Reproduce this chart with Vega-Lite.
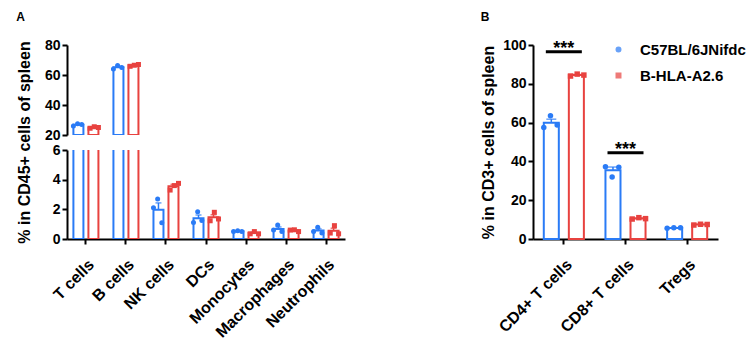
{
  "$schema": "https://vega.github.io/schema/vega-lite/v6.json",
  "padding": {"left": 16, "top": 11, "right": 5, "bottom": 5},
  "config": {
    "view": {"stroke": null},
    "font": "Liberation Sans",
    "axis": {"domainColor": "black", "domainWidth": 2, "tickColor": "black", "tickWidth": 2, "tickSize": 5, "labelFont": "Liberation Sans", "labelFontWeight": "bold", "labelFontSize": 14, "labelColor": "black", "labelOverlap": false, "titleFont": "Liberation Sans", "titleFontWeight": "bold", "titleFontSize": 16, "titleColor": "black", "grid": false},
    "title": {"font": "Liberation Sans", "fontSize": 12, "fontWeight": "bold", "color": "black", "anchor": "start", "frame": "bounds", "offset": 14},
    "legend": {"labelFont": "Liberation Sans", "labelFontSize": 15, "labelFontWeight": "bold", "labelColor": "black"}
  },
  "datasets": {
    "a": [
      {"cell": "T cells", "strain": "C57BL/6JNifdc", "mouse": "W1", "value": 26.0},
      {"cell": "T cells", "strain": "C57BL/6JNifdc", "mouse": "W2", "value": 27.5},
      {"cell": "T cells", "strain": "C57BL/6JNifdc", "mouse": "W3", "value": 27.0},
      {"cell": "T cells", "strain": "B-HLA-A2.6", "mouse": "H1", "value": 24.5},
      {"cell": "T cells", "strain": "B-HLA-A2.6", "mouse": "H2", "value": 25.5},
      {"cell": "T cells", "strain": "B-HLA-A2.6", "mouse": "H3", "value": 25.0},
      {"cell": "B cells", "strain": "C57BL/6JNifdc", "mouse": "W1", "value": 64.0},
      {"cell": "B cells", "strain": "C57BL/6JNifdc", "mouse": "W2", "value": 66.3},
      {"cell": "B cells", "strain": "C57BL/6JNifdc", "mouse": "W3", "value": 65.0},
      {"cell": "B cells", "strain": "B-HLA-A2.6", "mouse": "H1", "value": 65.8},
      {"cell": "B cells", "strain": "B-HLA-A2.6", "mouse": "H2", "value": 66.5},
      {"cell": "B cells", "strain": "B-HLA-A2.6", "mouse": "H3", "value": 67.0},
      {"cell": "NK cells", "strain": "C57BL/6JNifdc", "mouse": "W1", "value": 2.1},
      {"cell": "NK cells", "strain": "C57BL/6JNifdc", "mouse": "W2", "value": 2.7},
      {"cell": "NK cells", "strain": "C57BL/6JNifdc", "mouse": "W3", "value": 1.1},
      {"cell": "NK cells", "strain": "B-HLA-A2.6", "mouse": "H1", "value": 3.3},
      {"cell": "NK cells", "strain": "B-HLA-A2.6", "mouse": "H2", "value": 3.6},
      {"cell": "NK cells", "strain": "B-HLA-A2.6", "mouse": "H3", "value": 3.75},
      {"cell": "DCs", "strain": "C57BL/6JNifdc", "mouse": "W1", "value": 1.12},
      {"cell": "DCs", "strain": "C57BL/6JNifdc", "mouse": "W2", "value": 1.83},
      {"cell": "DCs", "strain": "C57BL/6JNifdc", "mouse": "W3", "value": 1.25},
      {"cell": "DCs", "strain": "B-HLA-A2.6", "mouse": "H1", "value": 1.23},
      {"cell": "DCs", "strain": "B-HLA-A2.6", "mouse": "H2", "value": 1.8},
      {"cell": "DCs", "strain": "B-HLA-A2.6", "mouse": "H3", "value": 1.35},
      {"cell": "Monocytes", "strain": "C57BL/6JNifdc", "mouse": "W1", "value": 0.5},
      {"cell": "Monocytes", "strain": "C57BL/6JNifdc", "mouse": "W2", "value": 0.55},
      {"cell": "Monocytes", "strain": "C57BL/6JNifdc", "mouse": "W3", "value": 0.5},
      {"cell": "Monocytes", "strain": "B-HLA-A2.6", "mouse": "H1", "value": 0.35},
      {"cell": "Monocytes", "strain": "B-HLA-A2.6", "mouse": "H2", "value": 0.5},
      {"cell": "Monocytes", "strain": "B-HLA-A2.6", "mouse": "H3", "value": 0.35},
      {"cell": "Macrophages", "strain": "C57BL/6JNifdc", "mouse": "W1", "value": 0.6},
      {"cell": "Macrophages", "strain": "C57BL/6JNifdc", "mouse": "W2", "value": 0.94},
      {"cell": "Macrophages", "strain": "C57BL/6JNifdc", "mouse": "W3", "value": 0.5},
      {"cell": "Macrophages", "strain": "B-HLA-A2.6", "mouse": "H1", "value": 0.6},
      {"cell": "Macrophages", "strain": "B-HLA-A2.6", "mouse": "H2", "value": 0.62},
      {"cell": "Macrophages", "strain": "B-HLA-A2.6", "mouse": "H3", "value": 0.5},
      {"cell": "Neutrophils", "strain": "C57BL/6JNifdc", "mouse": "W1", "value": 0.5},
      {"cell": "Neutrophils", "strain": "C57BL/6JNifdc", "mouse": "W2", "value": 0.8},
      {"cell": "Neutrophils", "strain": "C57BL/6JNifdc", "mouse": "W3", "value": 0.4},
      {"cell": "Neutrophils", "strain": "B-HLA-A2.6", "mouse": "H1", "value": 0.4},
      {"cell": "Neutrophils", "strain": "B-HLA-A2.6", "mouse": "H2", "value": 0.9},
      {"cell": "Neutrophils", "strain": "B-HLA-A2.6", "mouse": "H3", "value": 0.35}
    ],
    "b": [
      {"cell": "CD4+ T cells", "strain": "C57BL/6JNifdc", "mouse": "W1", "value": 57.5},
      {"cell": "CD4+ T cells", "strain": "C57BL/6JNifdc", "mouse": "W2", "value": 63.5},
      {"cell": "CD4+ T cells", "strain": "C57BL/6JNifdc", "mouse": "W3", "value": 58.8},
      {"cell": "CD4+ T cells", "strain": "B-HLA-A2.6", "mouse": "H1", "value": 84.0},
      {"cell": "CD4+ T cells", "strain": "B-HLA-A2.6", "mouse": "H2", "value": 85.0},
      {"cell": "CD4+ T cells", "strain": "B-HLA-A2.6", "mouse": "H3", "value": 84.5},
      {"cell": "CD8+ T cells", "strain": "C57BL/6JNifdc", "mouse": "W1", "value": 37.2},
      {"cell": "CD8+ T cells", "strain": "C57BL/6JNifdc", "mouse": "W2", "value": 32.0},
      {"cell": "CD8+ T cells", "strain": "C57BL/6JNifdc", "mouse": "W3", "value": 37.0},
      {"cell": "CD8+ T cells", "strain": "B-HLA-A2.6", "mouse": "H1", "value": 10.3},
      {"cell": "CD8+ T cells", "strain": "B-HLA-A2.6", "mouse": "H2", "value": 11.0},
      {"cell": "CD8+ T cells", "strain": "B-HLA-A2.6", "mouse": "H3", "value": 10.5},
      {"cell": "Tregs", "strain": "C57BL/6JNifdc", "mouse": "W1", "value": 5.6},
      {"cell": "Tregs", "strain": "C57BL/6JNifdc", "mouse": "W2", "value": 5.8},
      {"cell": "Tregs", "strain": "C57BL/6JNifdc", "mouse": "W3", "value": 5.8},
      {"cell": "Tregs", "strain": "B-HLA-A2.6", "mouse": "H1", "value": 7.2},
      {"cell": "Tregs", "strain": "B-HLA-A2.6", "mouse": "H2", "value": 7.6},
      {"cell": "Tregs", "strain": "B-HLA-A2.6", "mouse": "H3", "value": 7.5}
    ],
    "sig": [
      {"cell": "CD4+ T cells", "y": 96.5, "label": "***"},
      {"cell": "CD8+ T cells", "y": 44.5, "label": "***"}
    ]
  },
  "spacing": 135,
  "hconcat": [
    {
      "title": {"text": "A"},
      "bounds": "flush",
      "spacing": 15,
      "vconcat": [
        {
          "width": 278, "height": 90,
          "data": {"name": "a"},
          "transform": [{"filter": {"field": "cell", "oneOf": ["T cells", "B cells"]}}],
          "encoding": {
            "x": {"field": "cell", "type": "nominal", "scale": {"domain": ["T cells", "B cells", "NK cells", "DCs", "Monocytes", "Macrophages", "Neutrophils"], "paddingInner": 0.375, "paddingOuter": 0.16}, "axis": null}
          },
          "resolve": {"scale": {"xOffset": "independent"}},
          "layer": [
            {
              "layer": [
                {
                  "mark": {"type": "errorbar", "extent": "stderr", "ticks": {"size": 6}, "thickness": 1.5, "clip": true},
                  "encoding": {
                    "xOffset": {"field": "strain", "type": "nominal", "sort": ["C57BL/6JNifdc", "B-HLA-A2.6"], "scale": {"paddingInner": 0.333, "paddingOuter": 0}},
                    "y": {"field": "value", "type": "quantitative", "scale": {"domain": [20, 80]}, "axis": {"values": [20, 40, 60, 80], "title": null, "labelOverlap": false, "tickCount": 4}},
                    "color": {"field": "strain", "type": "nominal", "sort": ["C57BL/6JNifdc", "B-HLA-A2.6"], "scale": {"domain": ["C57BL/6JNifdc", "B-HLA-A2.6"], "range": ["#2a7bf6", "#e8423f"]}}
                  }
                },
                {
                  "mark": {"type": "bar", "fill": "white", "strokeWidth": 2, "clip": true},
                  "encoding": {
                    "xOffset": {"field": "strain", "type": "nominal", "sort": ["C57BL/6JNifdc", "B-HLA-A2.6"]},
                    "y": {"aggregate": "mean", "field": "value", "type": "quantitative", "axis": {"values": [20, 40, 60, 80], "title": null, "labelOverlap": false, "tickCount": 4}},
                    "stroke": {"field": "strain", "type": "nominal", "scale": {"domain": ["C57BL/6JNifdc", "B-HLA-A2.6"], "range": ["#2a7bf6", "#e8423f"]}, "legend": null}
                  }
                }
              ]
            },
            {
              "mark": {"type": "point", "filled": true, "size": 25, "opacity": 1, "clip": true},
              "encoding": {
                "xOffset": {"field": "mouse", "type": "nominal", "scale": {"domain": ["W1", "W2", "W3", " ", "H1", "H2", "H3"], "paddingInner": 0, "paddingOuter": 0}},
                "y": {"field": "value", "type": "quantitative", "axis": {"values": [20, 40, 60, 80], "title": null, "labelOverlap": false, "tickCount": 4}},
                "color": {"field": "strain", "type": "nominal"},
                "shape": {"field": "strain", "type": "nominal", "scale": {"domain": ["C57BL/6JNifdc", "B-HLA-A2.6"], "range": ["circle", "square"]}}
              }
            }
          ]
        },
        {
          "width": 278, "height": 89,
          "data": {"name": "a"},
          "encoding": {
            "x": {"field": "cell", "type": "nominal", "scale": {"domain": ["T cells", "B cells", "NK cells", "DCs", "Monocytes", "Macrophages", "Neutrophils"], "paddingInner": 0.375, "paddingOuter": 0.16}, "axis": {"title": null, "labelAngle": -45, "labelPadding": 12, "labelFontSize": 16}}
          },
          "resolve": {"scale": {"xOffset": "independent"}},
          "layer": [
            {
              "layer": [
                {
                  "mark": {"type": "errorbar", "extent": "stderr", "ticks": {"size": 6}, "thickness": 1.5, "clip": true},
                  "encoding": {
                    "xOffset": {"field": "strain", "type": "nominal", "sort": ["C57BL/6JNifdc", "B-HLA-A2.6"], "scale": {"paddingInner": 0.333, "paddingOuter": 0}},
                    "y": {"field": "value", "type": "quantitative", "scale": {"domain": [0, 6]}, "axis": {"values": [0, 2, 4, 6], "tickCount": 4, "labelOverlap": false, "title": "% in CD45+ cells of spleen", "titleY": -8, "titlePadding": 20}},
                    "color": {"field": "strain", "type": "nominal"}
                  }
                },
                {
                  "mark": {"type": "bar", "fill": "white", "strokeWidth": 2, "clip": true},
                  "encoding": {
                    "xOffset": {"field": "strain", "type": "nominal", "sort": ["C57BL/6JNifdc", "B-HLA-A2.6"]},
                    "y": {"aggregate": "mean", "field": "value", "type": "quantitative", "axis": {"values": [0, 2, 4, 6], "tickCount": 4, "labelOverlap": false, "title": "% in CD45+ cells of spleen", "titleY": -8, "titlePadding": 20}},
                    "stroke": {"field": "strain", "type": "nominal", "legend": null}
                  }
                }
              ]
            },
            {
              "mark": {"type": "point", "filled": true, "size": 25, "opacity": 1, "clip": true},
              "encoding": {
                "xOffset": {"field": "mouse", "type": "nominal", "scale": {"domain": ["W1", "W2", "W3", " ", "H1", "H2", "H3"], "paddingInner": 0, "paddingOuter": 0}},
                "y": {"field": "value", "type": "quantitative", "axis": {"values": [0, 2, 4, 6], "tickCount": 4, "labelOverlap": false, "title": "% in CD45+ cells of spleen", "titleY": -8, "titlePadding": 20}},
                "color": {"field": "strain", "type": "nominal"},
                "shape": {"field": "strain", "type": "nominal"}
              }
            }
          ]
        }
      ]
    },
    {
      "title": {"text": "B"},
      "width": 185, "height": 194,
      "encoding": {
        "x": {"field": "cell", "type": "nominal", "scale": {"domain": ["CD4+ T cells", "CD8+ T cells", "Tregs"], "paddingInner": 0.35, "paddingOuter": 0.175}, "axis": {"title": null, "labelAngle": -45, "labelPadding": 12, "labelFontSize": 16}}
      },
      "resolve": {"scale": {"xOffset": "independent"}},
      "layer": [
        {
          "data": {"name": "b"},
          "layer": [
            {
              "mark": {"type": "errorbar", "extent": "stderr", "ticks": {"size": 10}, "thickness": 1.5},
              "encoding": {
                "xOffset": {"field": "strain", "type": "nominal", "sort": ["C57BL/6JNifdc", "B-HLA-A2.6"], "scale": {"paddingInner": 0.4, "paddingOuter": 0}},
                "y": {"field": "value", "type": "quantitative", "scale": {"domain": [0, 100]}, "axis": {"values": [0, 20, 40, 60, 80, 100], "tickCount": 6, "labelOverlap": false, "title": "% in CD3+ cells of spleen", "titlePadding": 6}},
                "color": {"field": "strain", "type": "nominal"}
              }
            },
            {
              "mark": {"type": "bar", "fill": "white", "strokeWidth": 2},
              "encoding": {
                "xOffset": {"field": "strain", "type": "nominal", "sort": ["C57BL/6JNifdc", "B-HLA-A2.6"]},
                "y": {"aggregate": "mean", "field": "value", "type": "quantitative", "axis": {"values": [0, 20, 40, 60, 80, 100], "tickCount": 6, "labelOverlap": false, "title": "% in CD3+ cells of spleen", "titlePadding": 6}},
                "stroke": {"field": "strain", "type": "nominal", "legend": null}
              }
            }
          ]
        },
        {
          "data": {"name": "b"},
          "mark": {"type": "point", "filled": true, "size": 30, "opacity": 1},
          "encoding": {
            "xOffset": {"field": "mouse", "type": "nominal", "scale": {"domain": ["W1", "W2", "W3", " ", "H1", "H2", "H3"], "paddingInner": 0, "paddingOuter": 0}},
            "y": {"field": "value", "type": "quantitative", "axis": {"values": [0, 20, 40, 60, 80, 100], "tickCount": 6, "labelOverlap": false, "title": "% in CD3+ cells of spleen", "titlePadding": 6}},
            "color": {"field": "strain", "type": "nominal", "legend": {"title": null, "orient": "none", "legendX": 544, "legendY": -3, "symbolSize": 20, "rowPadding": 10, "labelOffset": 14}},
            "shape": {"field": "strain", "type": "nominal", "legend": {"title": null, "orient": "none", "legendX": 544, "legendY": -3, "symbolSize": 20, "rowPadding": 10, "labelOffset": 14}}
          }
        },
        {
          "data": {"name": "sig"},
          "mark": {"type": "tick", "orient": "horizontal", "size": 36, "thickness": 3, "color": "black", "opacity": 1},
          "encoding": {
            "y": {"field": "y", "type": "quantitative"}
          }
        },
        {
          "data": {"name": "sig"},
          "mark": {"type": "text", "fontSize": 18, "fontWeight": "bold", "baseline": "alphabetic", "dy": 2, "color": "black"},
          "encoding": {
            "y": {"field": "y", "type": "quantitative"},
            "text": {"field": "label"}
          }
        }
      ]
    }
  ]
}
